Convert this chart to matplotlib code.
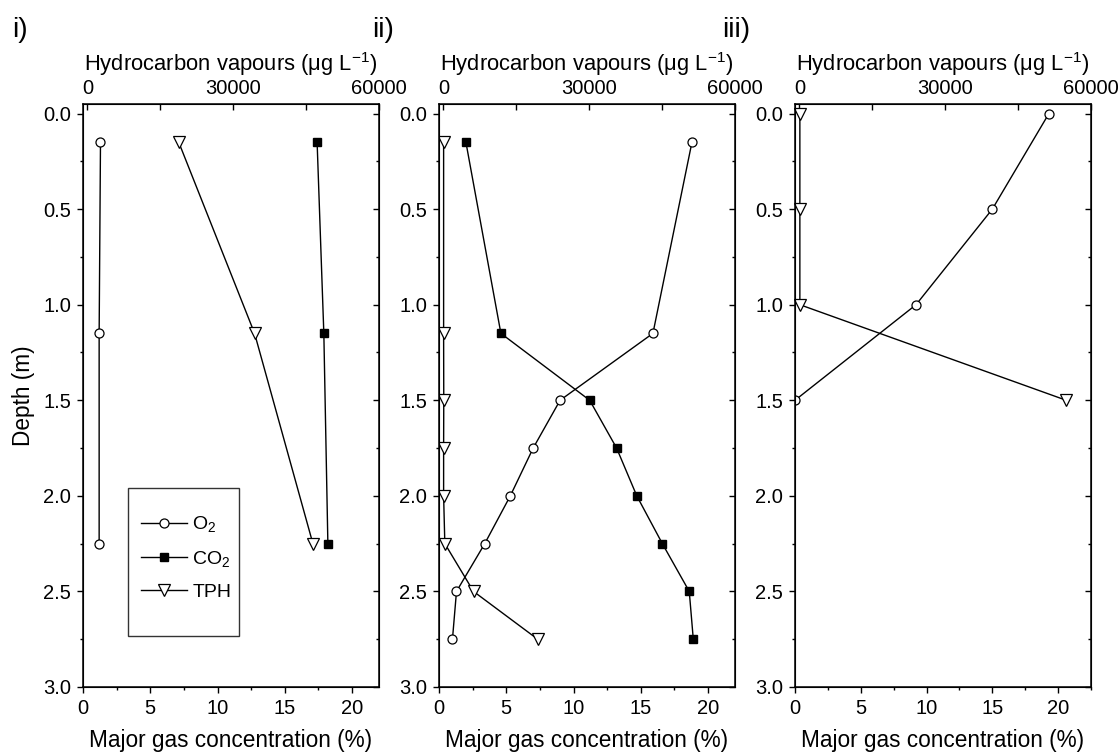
import matplotlib
matplotlib.use('Agg')
import matplotlib.pyplot as plt
from matplotlib.ticker import MultipleLocator, FixedLocator, FormatStrFormatter
from matplotlib.patches import Rectangle

plt.rcParams['font.family'] = ['Liberation Sans', 'DejaVu Sans']
plt.rcParams['mathtext.default'] = 'regular'

# panel i
depth_i = [0.15, 1.15, 2.25]
o2_i = [1.3, 1.2, 1.2]
co2_i = [17.4, 17.9, 18.2]
tph_i = [18800, 34400, 46400]

# panel ii
depth_ii = [0.15, 1.15, 1.5, 1.75, 2.0, 2.25, 2.5, 2.75]
o2_ii = [18.8, 15.9, 9.0, 7.0, 5.3, 3.4, 1.3, 1.0]
co2_ii = [2.0, 4.6, 11.2, 13.2, 14.7, 16.6, 18.6, 18.9]
tph_ii = [50, 50, 80, 50, 50, 300, 6200, 19400]

# panel iii
depth_iii = [0.0, 0.5, 1.0, 1.5]
o2_iii = [19.3, 15.0, 9.2, 0.0]
tph_iii = [100, 100, 100, 54900]

panel_names = ['i)', 'ii)', 'iii)']
bottom_max = [22, 22, 22.5]

W, H = 1118, 753
fig = plt.figure(figsize=(W / 100, H / 100), dpi=100)

lefts = [83, 439, 795]
ax_w = 296
ax_top, ax_bot = 104, 687

o2_kw = dict(color='black', lw=1.0, marker='o', ms=6.5, mfc='white', mec='black', mew=0.9)
co2_kw = dict(color='black', lw=1.0, marker='s', ms=5.5, mfc='black', mec='black')
tph_kw = dict(color='black', lw=1.0, marker='v', ms=8, mfc='white', mec='black', mew=0.9)


def make_axes(left, xmax):
    ax = fig.add_axes([left / W, 1 - ax_bot / H, ax_w / W, (ax_bot - ax_top) / H])
    ax.set_xlim(0, xmax)
    ax.set_ylim(3.0, -0.05)
    ax.xaxis.set_major_locator(MultipleLocator(5))
    ax.xaxis.set_minor_locator(MultipleLocator(2.5))
    ax.yaxis.set_major_locator(MultipleLocator(0.5))
    ax.yaxis.set_minor_locator(MultipleLocator(0.25))
    ax.yaxis.set_major_formatter(FormatStrFormatter('%.1f'))
    ax.xaxis.tick_bottom()
    ax.yaxis.tick_left()
    ax.tick_params(which='both', direction='out', labelsize=14.5, width=1.0, pad=4)
    ax.tick_params(which='major', length=4.5)
    ax.tick_params(which='minor', length=2.5)
    ax.set_xlabel('Major gas concentration (%)', fontsize=16.3, labelpad=8)
    for s in ax.spines.values():
        s.set_linewidth(1.1)

    top = ax.twiny()
    top.set_xlim(-900, 60000)
    top.xaxis.set_major_locator(FixedLocator([0, 30000, 60000]))
    top.xaxis.set_minor_locator(FixedLocator([15000, 45000]))
    top.xaxis.set_major_formatter(FormatStrFormatter('%d'))
    top.tick_params(axis='x', which='both', direction='in', length=4.5, width=1.0,
                    labelsize=14.5, pad=4)
    top.yaxis.set_visible(True)
    top.yaxis.tick_right()
    top.tick_params(axis='y', which='both', direction='in', width=1.0, labelright=False)
    top.tick_params(axis='y', which='major', length=4.5)
    top.tick_params(axis='y', which='minor', length=2.5)
    top.set_xlabel('Hydrocarbon vapours (\u03bcg L$^{-1}$)', fontsize=15.8, labelpad=6)
    return ax, top


# panel i
ax1, t1 = make_axes(lefts[0], bottom_max[0])
l_o2, = ax1.plot(o2_i, depth_i, label='O$_2$', **o2_kw)
l_co2, = ax1.plot(co2_i, depth_i, label='CO$_2$', **co2_kw)
l_tph, = t1.plot(tph_i, depth_i, label='TPH', **tph_kw)
ax1.set_ylabel('Depth (m)', fontsize=16.3, labelpad=6)

# legend box
t1.add_patch(Rectangle((0.151, 0.088), 0.377, 0.254, transform=t1.transAxes,
                       fill=False, edgecolor='#333333', lw=1.0))
leg = t1.legend(handles=[l_o2, l_co2, l_tph], loc='upper left',
                bbox_to_anchor=(0.195, 0.296), frameon=False, fontsize=14,
                handlelength=2.4, handletextpad=0.25, labelspacing=0.75,
                borderpad=0, borderaxespad=0)

# panel ii
ax2, t2 = make_axes(lefts[1], bottom_max[1])
ax2.plot(o2_ii, depth_ii, **o2_kw)
ax2.plot(co2_ii, depth_ii, **co2_kw)
t2.plot(tph_ii, depth_ii, **tph_kw)

# panel iii
ax3, t3 = make_axes(lefts[2], bottom_max[2])
ax3.plot(o2_iii, depth_iii, **o2_kw)
t3.plot(tph_iii, depth_iii, clip_on=False, **tph_kw)

for name, x in zip(panel_names, [12, 372, 722]):
    fig.text(x / W, 1 - 30 / H, name, fontsize=20, va='center', ha='left')

fig.savefig('out.png', dpi=100)
